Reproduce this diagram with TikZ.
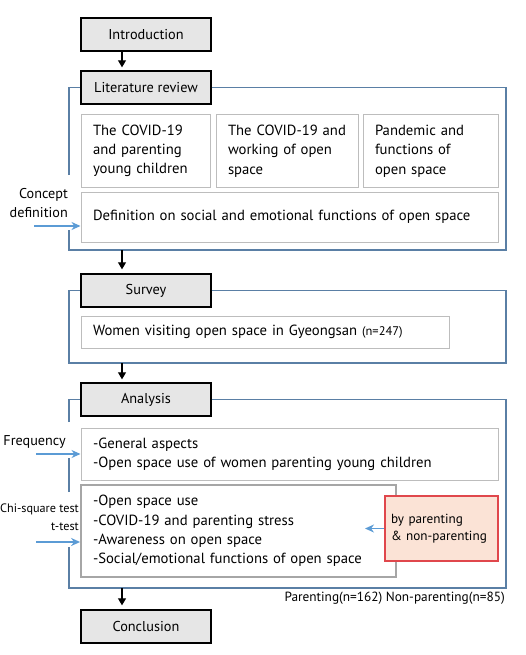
\documentclass[tikz,border=0pt]{standalone}
\usepackage{fontspec}
\setmainfont{PT Sans}
\usepackage{xcolor}
\usetikzlibrary{arrows.meta, positioning}

\definecolor{stagefill}{HTML}{E6E6E6}
\definecolor{itemline}{HTML}{BDBDBD}
\definecolor{frameline}{HTML}{5A7FA5}
\definecolor{feedline}{HTML}{5B9BD5}
\definecolor{groupfill}{HTML}{FBE3D6}
\definecolor{groupline}{HTML}{E0474C}

\begin{document}
\begin{tikzpicture}[x=1pt,y=-1pt]
\tikzstyle{stage}=[draw,line width=1.4pt,fill=stagefill,minimum width=130pt,minimum height=33pt,inner sep=0pt,font=\fontsize{14.3}{16}\selectfont]
\tikzstyle{item}=[draw=itemline,line width=1pt,inner xsep=12pt,inner ysep=0pt,align=left,font=\fontsize{14.7}{19.3}\selectfont]
\tikzstyle{frame}=[draw=frameline,line width=1.4pt]
\tikzstyle{flow}=[-{Triangle[length=7pt,width=8pt]},line width=1.2pt]
\tikzstyle{feed}=[-{Stealth[length=9pt,width=8pt]},draw=feedline,line width=1.4pt]
\tikzstyle{side}=[align=right,inner sep=0pt,font=\fontsize{14.2}{18.5}\selectfont]

\useasboundingbox (0,0) rectangle (526,655);

% Stages
\node[stage] (intro) at (146,34.5) {Introduction};
\node[stage] (lit) at (146,87.5) {Literature review};
\node[stage] (survey) at (146,290.5) {Survey};
\node[stage] (analysis) at (146,399.5) {Analysis};
\node[stage] (concl) at (146,626.5) {Conclusion};

% Literature review
\node[item,text width=105pt,minimum height=72pt] (cov1) at (145.5,151) {The COVID-19\\and parenting\\young children};
\node[item,text width=118pt,minimum height=72pt] (cov2) at (287,151) {The COVID-19 and\\working of open\\space};
\node[item,text width=111pt,minimum height=72pt] (cov3) at (430.5,151) {Pandemic and\\functions of\\open space};
\node[item,text width=393pt,minimum height=50pt] (defn) at (289.5,217) {Definition on social and emotional functions of open space};
\node[side,anchor=east] (concept) at (68,203) {Concept\\definition};

% Survey
\node[item,text width=344pt,minimum height=32pt] (women) at (265,332) {Women visiting open space in Gyeongsan {\fontsize{12.5}{14}\selectfont(n=247)}};

% Analysis
\node[item,text width=393pt,minimum height=52pt] (freq) at (289.5,454) {-General aspects\\-Open space use of women parenting young children};
\node[item,draw=gray!70,line width=1.8pt,text width=291pt,minimum height=92pt] (tests) at (238.5,531) {-Open space use\\-COVID-19 and parenting stress\\-Awareness on open space\\-Social/emotional functions of open space};
\node[item,fill=groupfill,draw=groupline,line width=1.2pt,inner xsep=6pt,text width=101pt,minimum height=65pt,font=\fontsize{13.2}{17}\selectfont] (group) at (441.5,528.5) {by parenting\\\& non-parenting};
\node[side,anchor=east] (freqlab) at (66,442) {Frequency};
\node[side,anchor=east,font=\fontsize{12.2}{18.5}\selectfont] (testlab) at (79,517) {Chi-square test\\t-test};
\node[side,anchor=east,font=\fontsize{13.3}{15}\selectfont] (sample) at (505,598) {Parenting(n=162) Non-parenting(n=85)};

% Frames
\draw[frame] (lit.east) -- (506,87.5) -- (506,250) -- (69,250) -- (69,230);
\draw[frame] (69,175) -- (69,87.5) -- (lit.west);
\draw[frame] (survey.east) -- (506,290.5) -- (506,363) -- (69,363) -- (69,290.5) -- (survey.west);
\draw[frame] (analysis.east) -- (506,399.5) -- (506,588) -- (69,588) -- (69,547);
\draw[frame] (69,492) -- (69,458);
\draw[frame] (69,422) -- (69,399.5) -- (analysis.west);

% Flow
\coordinate (litbot) at (122,250);
\coordinate (surveybot) at (122,363);
\coordinate (analysisbot) at (122,588);
\draw[flow] ([xshift=-24pt]intro.south) -- ([xshift=-24pt,yshift=3pt]lit.north);
\draw[flow] (litbot) -- ([xshift=-24pt,yshift=4pt]survey.north);
\draw[flow] (surveybot) -- ([xshift=-24pt,yshift=3pt]analysis.north);
\draw[flow] (analysisbot) -- ([xshift=-24pt,yshift=4pt]concl.north);

% Inputs
\coordinate (conceptin) at (34,226);
\coordinate (freqin) at (36,454);
\coordinate (testin) at (36,542);
\coordinate (grouptip) at (365,528.5);
\draw[feed] (conceptin) -- (conceptin -| defn.west);
\draw[feed] (freqin) -- (freq.west);
\draw[feed] (testin) -- (testin -| tests.west);
\draw[feed] (group.west) -- (grouptip);

\end{tikzpicture}
\end{document}
